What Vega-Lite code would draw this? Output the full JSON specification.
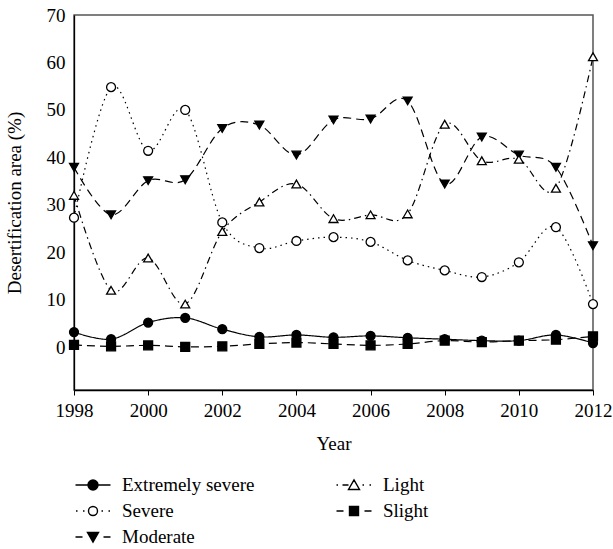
{
  "$schema": "https://vega.github.io/schema/vega-lite/v6.json",
  "autosize": {"type": "none"},
  "padding": {"left": 74, "top": 15, "right": 20, "bottom": 159},
  "width": 519,
  "height": 375,
  "background": "white",
  "config": {
    "font": "Liberation Serif",
    "view": {"stroke": "#555", "strokeWidth": 1.5},
    "axis": {"labelFont": "Liberation Serif", "titleFont": "Liberation Serif", "labelFontSize": 19, "titleFontSize": 19, "titleFontWeight": "normal", "labelColor": "black", "titleColor": "black", "domainColor": "black", "tickColor": "black", "grid": false, "domainWidth": 1.3},
    "legend": {"labelFont": "Liberation Serif", "labelFontSize": 19, "labelColor": "black", "symbolStrokeWidth": 1.4}
  },
  "data": {"values": [
    {"Year":1998,"Class":"Extremely severe","Value":3.2},
    {"Year":1999,"Class":"Extremely severe","Value":1.7},
    {"Year":2000,"Class":"Extremely severe","Value":5.2},
    {"Year":2001,"Class":"Extremely severe","Value":6.2},
    {"Year":2002,"Class":"Extremely severe","Value":3.8},
    {"Year":2003,"Class":"Extremely severe","Value":2.2},
    {"Year":2004,"Class":"Extremely severe","Value":2.6},
    {"Year":2005,"Class":"Extremely severe","Value":2.1},
    {"Year":2006,"Class":"Extremely severe","Value":2.4},
    {"Year":2007,"Class":"Extremely severe","Value":2.0},
    {"Year":2008,"Class":"Extremely severe","Value":1.7},
    {"Year":2009,"Class":"Extremely severe","Value":1.4},
    {"Year":2010,"Class":"Extremely severe","Value":1.4},
    {"Year":2011,"Class":"Extremely severe","Value":2.6},
    {"Year":2012,"Class":"Extremely severe","Value":0.9},
    {"Year":1998,"Class":"Severe","Value":27.3},
    {"Year":1999,"Class":"Severe","Value":54.8},
    {"Year":2000,"Class":"Severe","Value":41.4},
    {"Year":2001,"Class":"Severe","Value":50.0},
    {"Year":2002,"Class":"Severe","Value":26.3},
    {"Year":2003,"Class":"Severe","Value":20.9},
    {"Year":2004,"Class":"Severe","Value":22.4},
    {"Year":2005,"Class":"Severe","Value":23.2},
    {"Year":2006,"Class":"Severe","Value":22.2},
    {"Year":2007,"Class":"Severe","Value":18.3},
    {"Year":2008,"Class":"Severe","Value":16.2},
    {"Year":2009,"Class":"Severe","Value":14.8},
    {"Year":2010,"Class":"Severe","Value":17.9},
    {"Year":2011,"Class":"Severe","Value":25.3},
    {"Year":2012,"Class":"Severe","Value":9.1},
    {"Year":1998,"Class":"Moderate","Value":37.9},
    {"Year":1999,"Class":"Moderate","Value":27.9},
    {"Year":2000,"Class":"Moderate","Value":35.1},
    {"Year":2001,"Class":"Moderate","Value":35.3},
    {"Year":2002,"Class":"Moderate","Value":46.1},
    {"Year":2003,"Class":"Moderate","Value":46.8},
    {"Year":2004,"Class":"Moderate","Value":40.5},
    {"Year":2005,"Class":"Moderate","Value":47.9},
    {"Year":2006,"Class":"Moderate","Value":48.1},
    {"Year":2007,"Class":"Moderate","Value":51.9},
    {"Year":2008,"Class":"Moderate","Value":34.4},
    {"Year":2009,"Class":"Moderate","Value":44.3},
    {"Year":2010,"Class":"Moderate","Value":40.5},
    {"Year":2011,"Class":"Moderate","Value":37.9},
    {"Year":2012,"Class":"Moderate","Value":21.4},
    {"Year":1998,"Class":"Light","Value":32.0},
    {"Year":1999,"Class":"Light","Value":12.0},
    {"Year":2000,"Class":"Light","Value":18.8},
    {"Year":2001,"Class":"Light","Value":9.1},
    {"Year":2002,"Class":"Light","Value":24.4},
    {"Year":2003,"Class":"Light","Value":30.6},
    {"Year":2004,"Class":"Light","Value":34.4},
    {"Year":2005,"Class":"Light","Value":27.1},
    {"Year":2006,"Class":"Light","Value":27.9},
    {"Year":2007,"Class":"Light","Value":28.1},
    {"Year":2008,"Class":"Light","Value":47.0},
    {"Year":2009,"Class":"Light","Value":39.3},
    {"Year":2010,"Class":"Light","Value":39.6},
    {"Year":2011,"Class":"Light","Value":33.5},
    {"Year":2012,"Class":"Light","Value":61.2},
    {"Year":1998,"Class":"Slight","Value":0.5},
    {"Year":1999,"Class":"Slight","Value":0.2},
    {"Year":2000,"Class":"Slight","Value":0.4},
    {"Year":2001,"Class":"Slight","Value":0.1},
    {"Year":2002,"Class":"Slight","Value":0.2},
    {"Year":2003,"Class":"Slight","Value":0.7},
    {"Year":2004,"Class":"Slight","Value":1.0},
    {"Year":2005,"Class":"Slight","Value":0.7},
    {"Year":2006,"Class":"Slight","Value":0.4},
    {"Year":2007,"Class":"Slight","Value":0.7},
    {"Year":2008,"Class":"Slight","Value":1.4},
    {"Year":2009,"Class":"Slight","Value":1.1},
    {"Year":2010,"Class":"Slight","Value":1.4},
    {"Year":2011,"Class":"Slight","Value":1.6},
    {"Year":2012,"Class":"Slight","Value":2.3}
  ]},
  "encoding": {
    "x": {"field": "Year", "type": "quantitative", "scale": {"domain": [1998, 2012], "nice": false, "zero": false},
      "axis": {"title": "Year", "values": [1998, 2000, 2002, 2004, 2006, 2008, 2010, 2012], "format": "d", "tickSize": 5, "labelPadding": 6, "titlePadding": 14, "labelFlush": false}},
    "y": {"field": "Value", "type": "quantitative", "scale": {"domain": [-9, 70], "nice": false, "zero": false},
      "axis": {"title": "Desertification area (%)", "values": [0, 10, 20, 30, 40, 50, 60, 70], "ticks": false, "tickSize": 0, "labelPadding": 9, "titlePadding": 22}}
  },
  "layer": [
    {
      "mark": {"type": "line", "interpolate": "cardinal", "color": "black", "strokeWidth": 1.2},
      "encoding": {
        "detail": {"field": "Class"},
        "strokeDash": {"field": "Class", "type": "nominal", "legend": null,
          "scale": {"range": [[1, 0], [7, 4, 1.5, 4], [8, 5], [1.5, 4], [8, 5]]}}
      }
    },
    {
      "mark": {"type": "point", "filled": false, "stroke": "black", "strokeWidth": 1.3, "size": 80, "opacity": 1},
      "encoding": {
        "fill": {"field": "Class", "type": "nominal", "legend": null,
          "scale": {"range": ["black", "white", "black", "white", "black"]}},
        "shape": {"field": "Class", "type": "nominal", "legend": null,
          "scale": {"range": ["circle", "triangle-up", "triangle-down", "circle", "square"]}}
      }
    },
    {
      "transform": [{"filter": "datum.Year > 3000"}],
      "mark": {"type": "point", "filled": false, "strokeWidth": 1.4, "opacity": 1},
      "encoding": {
        "stroke": {"field": "Class", "type": "nominal",
          "scale": {"domain": ["Extremely severe", "Severe", "Moderate", "Light", "Slight"],
                    "range": ["black", "black", "black", "black", "black"]}},
        "fill": {"field": "Class", "type": "nominal",
          "scale": {"domain": ["Extremely severe", "Severe", "Moderate", "Light", "Slight"],
                    "range": ["black", "white", "black", "white", "black"]}},
        "shape": {"field": "Class", "type": "nominal",
          "scale": {"domain": ["Extremely severe", "Severe", "Moderate", "Light", "Slight"],
                    "range": [
                      "M-1.75,0H1.75M0.5,0A0.5,0.5 0 1,1 -0.5,0A0.5,0.5 0 1,1 0.5,0Z",
                      "M-1.7,0H-1.55M-1.0,0H-0.85M0.85,0H1.0M1.55,0H1.7M0.45,0A0.45,0.45 0 1,1 -0.45,0A0.45,0.45 0 1,1 0.45,0Z",
                      "M-1.75,0H-1.05M1.05,0H1.75M-0.55,-0.45L0.55,-0.45L0,0.5Z",
                      "M-1.75,0H-1.6M-1.15,0H-0.55M0.85,0H1.0M1.55,0H1.7M-0.55,0.45L0.55,0.45L0,-0.5Z",
                      "M-1.75,0H-1.05M1.05,0H1.75M-0.45,-0.45H0.45V0.45H-0.45Z"
                    ]},
          "legend": {
            "title": null, "orient": "none", "legendX": 8, "legendY": 459, "columns": 2,
            "padding": 0, "symbolSize": 400, "symbolStrokeWidth": 1.4, "labelOffset": 18, "rowPadding": 5, "columnPadding": 78,
            "labelLimit": 300
          }
        }
      }
    }
  ],
  "resolve": {"scale": {"shape": "independent", "fill": "independent", "stroke": "independent"}}
}
